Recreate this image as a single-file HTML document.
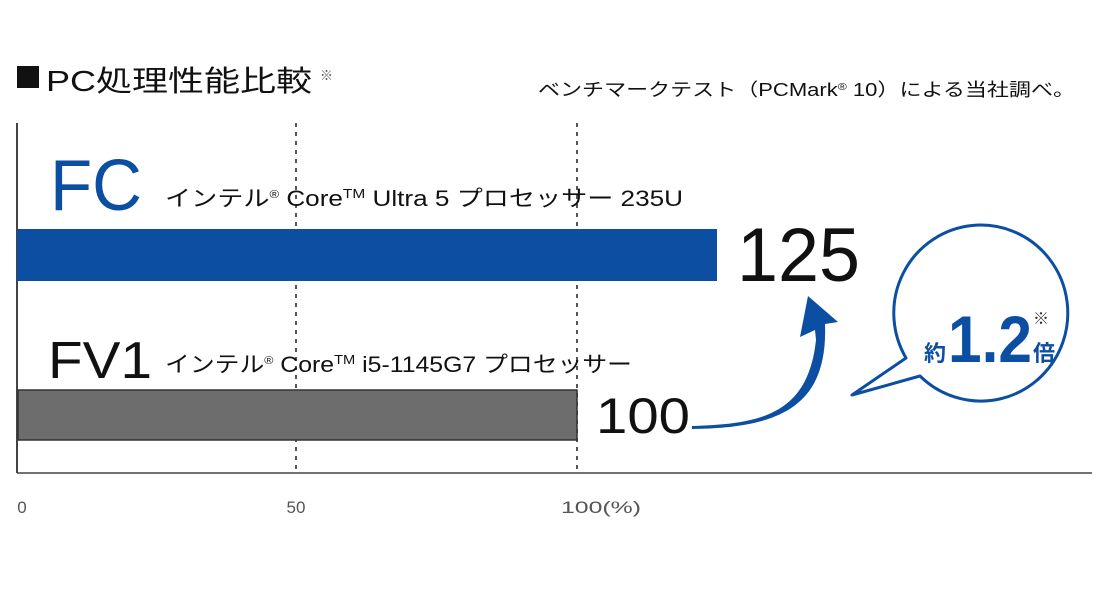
<!DOCTYPE html>
<html><head><meta charset="utf-8"><style>
body{margin:0;background:#fff;width:1112px;height:600px;overflow:hidden}
svg{display:block}
text{font-family:"Liberation Sans","Noto Sans CJK JP",sans-serif}
</style></head><body>
<svg width="1112" height="600" viewBox="0 0 1112 600">
<rect x="17" y="66" width="22" height="22" fill="#111"/>
<text x="46" y="91" font-size="29" fill="#111" textLength="266" lengthAdjust="spacingAndGlyphs">PC処理性能比較</text>
<text x="320" y="80" font-size="13" fill="#555">※</text>
<text x="538" y="96" font-size="18" fill="#111" textLength="537" lengthAdjust="spacingAndGlyphs">ベンチマークテスト（PCMark<tspan font-size="10" dy="-6">®</tspan><tspan dy="6"> 10）による当社調べ。</tspan></text>
<line x1="17" y1="123" x2="17" y2="473" stroke="#444" stroke-width="2"/>
<line x1="17" y1="473" x2="1092" y2="473" stroke="#444" stroke-width="1.5"/>
<line x1="296" y1="123" x2="296" y2="473" stroke="#555" stroke-width="2" stroke-dasharray="4,5"/>
<line x1="577" y1="123" x2="577" y2="473" stroke="#555" stroke-width="2" stroke-dasharray="4,5"/>
<rect x="17" y="229" width="700" height="52" fill="#0b4ea2"/>
<rect x="18" y="390" width="559" height="50" fill="#6d6d6d" stroke="#333" stroke-width="1.5"/>
<text x="50" y="210" font-size="72" fill="#0b4ea2" textLength="92" lengthAdjust="spacingAndGlyphs">FC</text>
<text x="165" y="206" font-size="22" fill="#111" textLength="518" lengthAdjust="spacingAndGlyphs">インテル<tspan font-size="11" dy="-8">®</tspan><tspan dy="8"> Core</tspan><tspan font-size="13" dy="-8">TM</tspan><tspan dy="8"> Ultra 5 プロセッサー 235U</tspan></text>
<text x="48" y="378" font-size="52" fill="#111" textLength="104" lengthAdjust="spacingAndGlyphs">FV1</text>
<text x="165" y="372" font-size="22" fill="#111" textLength="467" lengthAdjust="spacingAndGlyphs">インテル<tspan font-size="11" dy="-8">®</tspan><tspan dy="8"> Core</tspan><tspan font-size="13" dy="-8">TM</tspan><tspan dy="8"> i5-1145G7 プロセッサー</tspan></text>
<text x="737" y="281" font-size="76" fill="#111" textLength="123" lengthAdjust="spacingAndGlyphs">125</text>
<text x="596" y="433" font-size="50" fill="#111" textLength="94" lengthAdjust="spacingAndGlyphs">100</text>
<text x="22" y="513" font-size="17" fill="#555" text-anchor="middle">0</text>
<text x="296" y="513" font-size="17" fill="#555" text-anchor="middle">50</text>
<text x="561" y="513" font-size="17" fill="#555" textLength="80" lengthAdjust="spacingAndGlyphs">100(%)</text>
<path d="M692,426 C760,424 808,415 816,340 L815,330 L800,337 L808,296 L838,322 L825,324 C828,405 782,428 692,429 Z" fill="#0b4ea2"/>
<path d="M920,376 A87,88 0 1,0 906,358 L852,395 Z" fill="#fff" stroke="#0b4ea2" stroke-width="3" stroke-linejoin="round"/>
<text x="924" y="361" font-size="22" fill="#0b4ea2" font-weight="bold">約</text>
<text x="948" y="362" font-size="66" fill="#0b4ea2" font-weight="bold" textLength="84" lengthAdjust="spacingAndGlyphs">1.2</text>
<text x="1033" y="324" font-size="16" fill="#333">※</text>
<text x="1033" y="361" font-size="22" fill="#0b4ea2" font-weight="bold">倍</text>
</svg>
</body></html>
